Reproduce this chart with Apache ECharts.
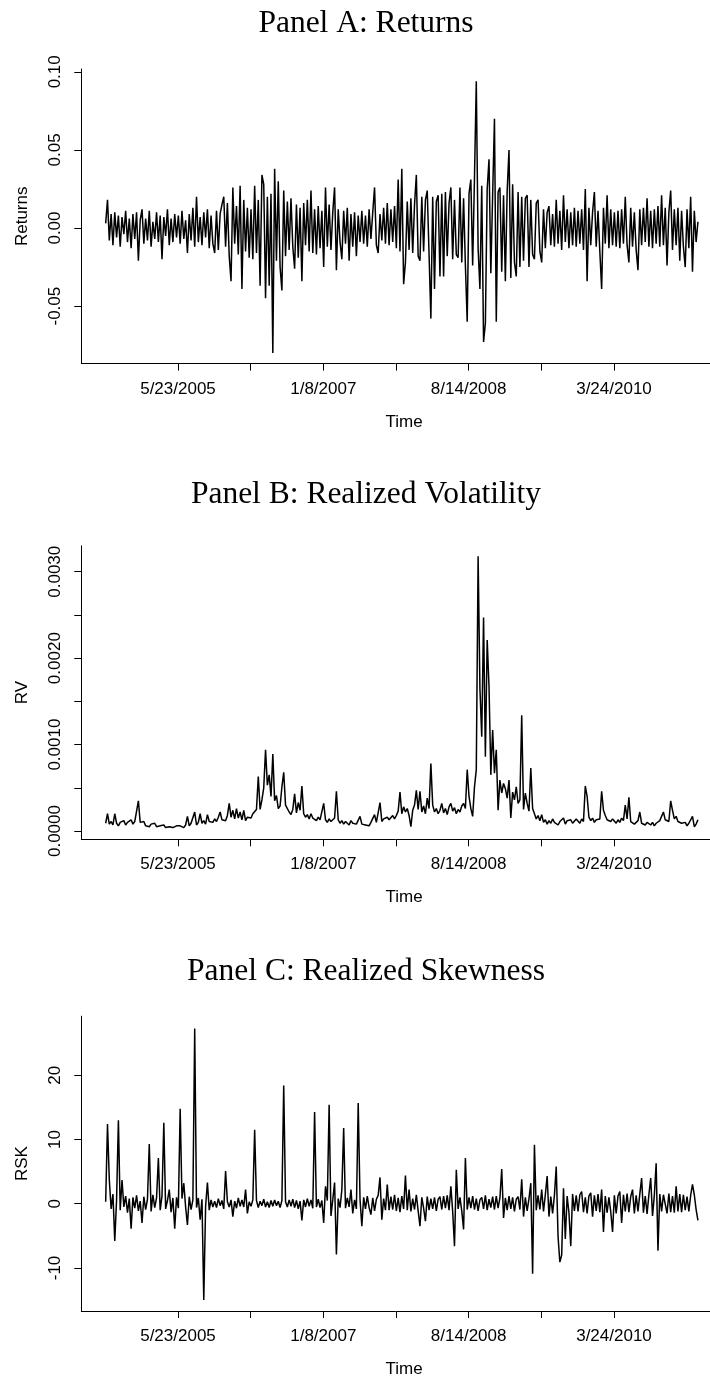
<!DOCTYPE html>
<html>
<head>
<meta charset="utf-8">
<script src="https://cdn.jsdelivr.net/npm/echarts@6.0.0/dist/echarts.min.js"></script>
<style>
  html, body { margin: 0; padding: 0; background: #fff; }
  #chart { width: 710px; height: 1379px; }
</style>
</head>
<body>
<div id="chart"></div>
<script>
// observation index runs 1..1633, one value kept every 5 observations
const obsStep = 5;

// x axis ticks (observation index) and the dates printed under them
const xTicks = [200, 400, 600, 800, 1000, 1200, 1400];
const xLabelPos = [200, 600, 1000, 1400];
const xLabelText = ['5/23/2005', '1/8/2007', '8/14/2008', '3/24/2010'];

// Panel A: daily returns
const returns = [
  .003,.018,-.008,.009,-.011,.010,-.006,.008,-.012,.007,-.004,.011,-.009,.006,-.013,.009,-.007,.010,-.021,.005,
  .012,-.010,.006,-.008,.011,-.012,.004,-.007,.010,-.009,.008,-.020,.007,-.005,.012,-.011,.006,-.009,.009,-.006,
  .008,-.010,.011,-.007,.005,-.016,.009,-.008,.013,-.012,.020,-.009,.007,-.011,.010,-.006,.012,-.013,.008,-.010,
  -.016,.011,-.014,.009,.015,.020,-.012,.016,-.018,-.034,.026,-.010,.014,-.017,.027,-.039,.018,-.015,.013,-.019,
  .012,-.020,.027,-.016,.018,-.037,.034,.028,-.045,.020,-.037,.022,-.080,.038,-.021,.030,-.025,-.040,.024,-.018,
  .017,-.014,.019,-.012,-.026,.015,-.019,.013,-.034,.016,-.011,.018,-.015,.024,-.016,.012,-.017,.014,-.013,.011,
  -.025,.026,-.012,.015,-.014,.010,.026,-.027,.012,-.009,-.020,.011,-.010,.013,-.021,.009,-.012,.010,-.018,.008,
  -.009,.011,-.010,.008,-.012,.012,-.007,.010,.026,-.011,-.016,.009,-.008,.013,-.010,.016,-.011,.012,-.009,.014,
  -.013,.031,-.015,.038,-.036,-.022,.017,-.014,.019,-.016,.015,.034,-.018,-.021,.020,-.015,.018,.024,-.017,-.058,
  .020,-.039,.017,.021,-.031,.022,-.031,.023,-.018,.016,.026,-.020,.018,-.017,-.019,.026,-.022,.019,-.024,-.060,
  .022,.031,-.024,.032,.094,-.013,-.039,.027,-.073,-.061,.025,.044,-.029,.021,.070,-.060,.023,.026,-.028,.021,
  -.034,.024,.050,-.032,.028,-.022,-.031,.023,-.025,.020,-.021,.019,.021,-.025,.018,-.017,-.020,.016,.018,-.015,
  -.022,.012,-.013,.010,.014,-.011,.009,-.012,.018,-.010,.011,-.014,.021,-.009,.012,-.013,.010,-.011,.013,-.012,
  .011,-.010,.012,-.014,.025,-.034,.013,-.011,.010,.023,-.012,.011,-.015,-.039,.013,-.010,.021,-.013,.012,-.011,
  .010,-.012,.011,-.013,.012,-.010,.020,-.011,-.022,.013,-.012,.010,-.014,-.027,.012,-.011,.013,-.009,.019,-.012,
  .011,-.013,.012,-.010,.014,-.012,.021,-.011,.013,-.024,.010,.024,-.014,.012,-.011,.013,-.021,.011,-.012,-.025,
  .012,-.013,.020,-.028,.011,-.009,.004
];

// Panel B: realized volatility
const rv = [
  0.9e-4,2.0e-4,0.8e-4,1.1e-4,0.7e-4,2.0e-4,0.9e-4,0.6e-4,1.0e-4,0.8e-4,1.2e-4,0.7e-4,1.0e-4,0.9e-4,1.3e-4,0.8e-4,1.1e-4,0.9e-4,3.5e-4,1.0e-4,
  0.8e-4,1.1e-4,0.6e-4,0.7e-4,0.5e-4,0.8e-4,0.6e-4,0.9e-4,0.5e-4,0.7e-4,0.6e-4,0.5e-4,0.7e-4,0.4e-4,0.6e-4,0.5e-4,0.7e-4,0.4e-4,0.5e-4,0.6e-4,
  0.4e-4,0.6e-4,0.5e-4,0.4e-4,0.7e-4,1.7e-4,0.6e-4,0.9e-4,0.8e-4,2.2e-4,0.7e-4,1.0e-4,2.0e-4,0.9e-4,1.2e-4,0.8e-4,1.9e-4,1.1e-4,1.3e-4,1.0e-4,
  1.4e-4,1.1e-4,1.6e-4,2.2e-4,1.3e-4,1.5e-4,1.2e-4,1.8e-4,3.2e-4,1.6e-4,2.4e-4,1.4e-4,2.6e-4,1.5e-4,2.2e-4,1.3e-4,2.4e-4,1.2e-4,1.6e-4,1.4e-4,
  1.5e-4,2.0e-4,1.8e-4,2.5e-4,6.3e-4,2.5e-4,3.6e-4,5.0e-4,9.4e-4,5.3e-4,6.5e-4,4.0e-4,8.9e-4,3.5e-4,4.1e-4,2.6e-4,2.9e-4,5.1e-4,6.8e-4,3.0e-4,
  2.8e-4,2.2e-4,1.9e-4,2.5e-4,4.3e-4,2.1e-4,3.3e-4,2.4e-4,5.2e-4,2.0e-4,1.6e-4,1.9e-4,1.4e-4,2.0e-4,1.5e-4,1.7e-4,1.2e-4,1.6e-4,1.3e-4,1.5e-4,
  3.2e-4,1.3e-4,1.0e-4,1.4e-4,1.1e-4,1.2e-4,1.5e-4,4.6e-4,1.3e-4,0.9e-4,1.2e-4,0.8e-4,1.1e-4,1.0e-4,0.7e-4,1.2e-4,0.9e-4,1.1e-4,0.8e-4,0.9e-4,
  1.7e-4,0.8e-4,1.0e-4,0.7e-4,0.9e-4,0.6e-4,1.0e-4,0.8e-4,1.9e-4,1.0e-4,1.2e-4,3.3e-4,1.1e-4,1.4e-4,1.2e-4,1.6e-4,1.3e-4,1.5e-4,1.8e-4,1.4e-4,
  1.8e-4,2.3e-4,4.5e-4,2.0e-4,2.8e-4,2.2e-4,2.6e-4,1.8e-4,0.5e-4,2.4e-4,3.0e-4,4.7e-4,2.5e-4,4.6e-4,2.2e-4,2.9e-4,2.0e-4,3.8e-4,2.6e-4,7.8e-4,
  3.0e-4,2.2e-4,2.6e-4,2.0e-4,2.4e-4,3.2e-4,2.1e-4,2.6e-4,1.9e-4,2.8e-4,3.2e-4,2.3e-4,2.7e-4,2.0e-4,2.5e-4,2.2e-4,2.9e-4,3.2e-4,2.6e-4,7.1e-4,
  4.0e-4,2.6e-4,1.7e-4,5.1e-4,7.1e-4,31.8e-4,16.5e-4,10.9e-4,24.7e-4,8.6e-4,22.1e-4,16.7e-4,6.5e-4,11.7e-4,6.7e-4,9.4e-4,2.4e-4,5.9e-4,4.4e-4,5.5e-4,
  4.9e-4,3.8e-4,5.9e-4,1.5e-4,4.5e-4,3.6e-4,5.1e-4,3.2e-4,3.6e-4,13.4e-4,2.5e-4,4.4e-4,3.2e-4,2.3e-4,7.3e-4,2.6e-4,2.0e-4,1.4e-4,1.8e-4,1.2e-4,
  1.9e-4,1.0e-4,1.3e-4,0.8e-4,1.2e-4,0.9e-4,1.4e-4,1.0e-4,1.2e-4,0.7e-4,1.1e-4,0.9e-4,1.5e-4,0.8e-4,1.2e-4,1.0e-4,1.3e-4,0.9e-4,1.1e-4,1.4e-4,
  1.2e-4,0.9e-4,1.4e-4,1.1e-4,5.2e-4,4.0e-4,1.6e-4,1.2e-4,1.5e-4,1.0e-4,1.3e-4,1.1e-4,1.4e-4,4.6e-4,2.4e-4,1.8e-4,1.3e-4,1.5e-4,1.1e-4,1.4e-4,
  1.2e-4,0.9e-4,1.3e-4,1.0e-4,1.5e-4,1.2e-4,3.0e-4,1.4e-4,3.9e-4,1.1e-4,1.3e-4,0.8e-4,1.0e-4,1.2e-4,2.2e-4,0.9e-4,1.1e-4,0.7e-4,1.0e-4,0.8e-4,
  0.7e-4,1.0e-4,0.6e-4,0.9e-4,0.7e-4,1.2e-4,1.0e-4,2.2e-4,1.3e-4,1.5e-4,1.1e-4,3.5e-4,2.4e-4,1.4e-4,1.7e-4,1.1e-4,1.3e-4,0.9e-4,0.8e-4,1.0e-4,
  0.6e-4,0.9e-4,1.1e-4,1.7e-4,0.5e-4,0.8e-4,1.3e-4
];

// Panel C: realized skewness
const rsk = [
  0.3,12.4,3.7,-0.8,1.5,-5.8,0.6,13.0,-1.0,3.7,-0.5,1.2,-1.4,0.8,-3.9,1.0,-0.7,1.3,-1.1,0.4,
  -3.0,1.1,-0.9,0.7,9.3,-1.2,1.4,-0.6,0.9,7.1,-1.0,1.2,12.6,-0.8,0.5,2.2,-1.3,0.9,-3.9,1.0,
  -0.7,14.8,0.8,3.2,-0.5,-3.3,1.1,-0.9,0.6,27.3,-0.6,0.9,-2.5,0.7,-15.0,-0.4,3.3,-1.0,0.6,-0.5,
  0.4,-0.6,0.8,-0.3,0.5,-0.8,5.1,0.3,-0.5,0.6,-2.0,0.4,-0.7,0.9,-0.4,0.6,-0.5,2.2,-1.5,0.3,
  -0.4,0.6,11.5,0.5,-0.6,0.4,-0.3,0.7,-0.5,0.3,-0.6,0.5,-0.4,0.6,-0.3,0.4,-0.6,0.5,18.4,0.3,
  -0.5,0.6,-0.4,0.7,-0.6,0.5,-0.8,0.4,-2.6,0.6,-0.5,0.8,-0.4,0.6,-0.7,14.3,-0.5,0.7,-0.6,0.5,
  -3.0,2.7,0.5,15.4,-1.9,0.6,3.3,-7.9,0.8,-0.6,2.2,11.8,-0.7,0.9,-0.5,2.2,-1.5,0.6,-0.8,15.7,
  0.7,-3.5,1.0,-0.8,1.2,-0.6,-1.7,0.9,-1.1,0.7,1.3,4.1,-2.5,0.8,-1.0,3.0,-1.0,1.1,-0.9,1.4,
  -1.1,0.9,-1.3,1.2,-0.8,4.4,-1.0,2.2,-1.2,0.8,-0.9,1.4,-1.1,-3.5,1.0,-0.7,-2.7,1.1,-1.0,0.8,
  -0.8,1.0,-1.1,0.7,1.1,-0.9,1.2,-0.7,1.3,-1.0,2.7,-1.2,-6.6,5.3,-0.8,1.0,-1.1,-4.0,7.1,-0.9,
  1.0,-0.7,1.2,-0.9,0.8,-1.1,0.6,1.0,-0.8,1.3,-1.0,0.7,-0.6,1.1,-0.9,1.2,-0.7,0.9,5.4,-2.2,
  0.9,-1.0,1.2,-0.8,1.0,-1.2,0.7,1.1,-0.9,3.8,-2.0,1.0,-1.1,0.8,3.2,-10.9,9.2,-1.0,1.3,-0.9,
  2.2,-1.2,1.4,4.3,-2.0,1.1,-1.5,1.3,5.8,-5.1,-9.1,-8.0,2.4,-5.5,1.2,-1.4,-6.6,1.5,-1.1,1.3,
  -1.2,1.4,1.9,-1.3,1.0,-1.5,1.2,1.7,-2.0,1.3,-1.1,1.5,-1.3,2.2,-4.4,1.2,-1.4,1.0,-1.2,-4.4,
  1.3,-1.5,1.2,1.9,-3.0,1.4,-1.2,1.6,-1.3,1.1,2.2,-1.5,1.3,-1.2,1.5,4.0,-1.4,1.2,-1.6,1.4,
  4.0,-1.9,1.3,6.3,-7.3,1.5,-1.2,1.4,1.1,-1.5,1.6,-1.3,1.2,-1.4,2.7,-1.2,1.5,-1.3,1.4,-1.0,
  1.1,-1.2,1.3,3.0,1.4,-0.9,-2.6
];

// y axis ticks / labels per panel
const retTicks = [-0.05, 0, 0.05, 0.10];
const rvTicks = [0, 0.0005, 0.001, 0.0015, 0.002, 0.0025, 0.003];
const rvLabels = [0, 0.001, 0.002, 0.003];
const rskTicks = [-10, 0, 10, 20];

const titles = ['Panel A: Returns', 'Panel B: Realized Volatility', 'Panel C: Realized Skewness'];
const yNames = ['Returns', 'RV', 'RSK'];

const chart = echarts.init(document.getElementById('chart'), null, { renderer: 'canvas' });

const labelFont = { color: '#000', fontSize: 17, fontFamily: '"Liberation Sans", Arial, sans-serif' };

// plot regions in px; the R plot region runs a bit past the right edge,
// so the grid stops at the page edge and the x max is cut to match
const grids = [
  { left: 81.3, top: 69, right: 0, height: 294.6 },
  { left: 81.3, top: 545.8, right: 0, height: 293.5 },
  { left: 81.3, top: 1016.2, right: 0, height: 295.2 }
];
const titleY = [23.5, 495, 971.5];
const yRanges = [[-0.0868, 0.1018], [-0.0000956, 0.0033], [-16.7, 29.2]];

function toSeries(arr) {
  return arr.map((v, i) => [1 + obsStep * i, v]);
}

function makeX(idx) {
  return {
    type: 'value',
    gridIndex: idx,
    min: -66.1,
    max: 1664.2,
    name: 'Time',
    nameLocation: 'middle',
    nameGap: 50,
    // R centres "Time" on its full plot region, which is wider than the page
    nameTextStyle: Object.assign({ padding: [0, 0, 0, 17] }, labelFont),
    splitLine: { show: false },
    axisLine: { onZero: false, lineStyle: { color: '#000', width: 1 } },
    axisTick: { length: 7, customValues: xTicks, lineStyle: { color: '#000', width: 1 } },
    axisLabel: Object.assign({
      margin: 17,
      customValues: xLabelPos,
      formatter: v => xLabelText[xLabelPos.indexOf(v)] || ''
    }, labelFont)
  };
}

function makeY(idx, ticks, labels, fmt) {
  return {
    type: 'value',
    gridIndex: idx,
    min: yRanges[idx][0],
    max: yRanges[idx][1],
    name: yNames[idx],
    nameLocation: 'middle',
    nameGap: 50,
    nameTextStyle: labelFont,
    splitLine: { show: false },
    axisLine: { onZero: false, lineStyle: { color: '#000', width: 1 } },
    axisTick: { length: 7, customValues: ticks, lineStyle: { color: '#000', width: 1 } },
    axisLabel: Object.assign({
      margin: 17,
      rotate: 90,
      customValues: labels,
      formatter: fmt
    }, labelFont)
  };
}

const lineStyle = { color: '#000', width: 1.5 };

chart.setOption({
  animation: false,
  backgroundColor: '#fff',
  grid: grids,
  xAxis: [makeX(0), makeX(1), makeX(2)],
  yAxis: [
    makeY(0, retTicks, retTicks, v => v.toFixed(2)),
    makeY(1, rvTicks, rvLabels, v => v.toFixed(4)),
    makeY(2, rskTicks, rskTicks, v => String(Math.round(v)))
  ],
  graphic: titles.map((t, i) => ({
    type: 'text',
    x: 366,
    y: titleY[i],
    style: {
      text: t,
      font: '31.5px "Liberation Serif", serif',
      fill: '#000',
      align: 'center',
      textAlign: 'center',
      verticalAlign: 'middle',
      textVerticalAlign: 'middle'
    }
  })),
  series: [
    { type: 'line', xAxisIndex: 0, yAxisIndex: 0, data: toSeries(returns), showSymbol: false, lineStyle: lineStyle },
    { type: 'line', xAxisIndex: 1, yAxisIndex: 1, data: toSeries(rv), showSymbol: false, lineStyle: lineStyle },
    { type: 'line', xAxisIndex: 2, yAxisIndex: 2, data: toSeries(rsk), showSymbol: false, lineStyle: lineStyle }
  ]
});
</script>
</body>
</html>
